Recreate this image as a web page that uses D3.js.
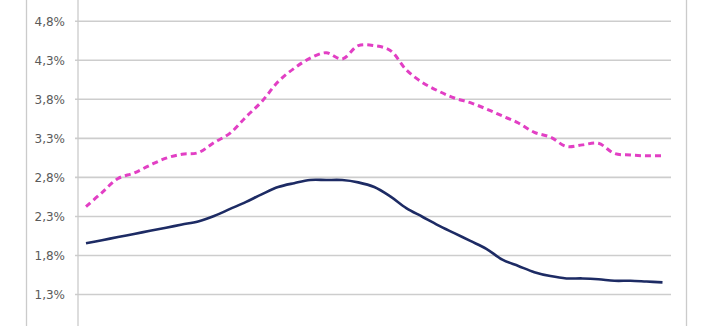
<!DOCTYPE html>
<html>
<head>
<meta charset="utf-8">
<script src="https://cdn.jsdelivr.net/npm/d3@7"></script>
<style>
  html, body { margin: 0; padding: 0; background: #fff; overflow: hidden; }
  .axis text { font-family: "DejaVu Sans", sans-serif; font-size: 12px; fill: #5a5a5a; }
</style>
</head>
<body>
<div id="main"></div>
<script>
// 37 periods, x labels are cut off in the picture
const periods = d3.range(1, 38)

// dashed pink series
const pinkSeries = [2.42, 2.60, 2.78, 2.85, 2.95, 3.04, 3.09, 3.11, 3.24, 3.36,
  3.57, 3.77, 4.02, 4.19, 4.32, 4.39, 4.31, 4.48, 4.48, 4.42,
  4.17, 4.01, 3.90, 3.81, 3.75, 3.67, 3.58, 3.49, 3.37, 3.31,
  3.19, 3.21, 3.23, 3.10, 3.08, 3.07, 3.07]

// solid navy series
const blueSeries = [1.95, 1.99, 2.03, 2.07, 2.11, 2.15, 2.19, 2.23, 2.30, 2.39,
  2.48, 2.58, 2.67, 2.72, 2.76, 2.76, 2.76, 2.73, 2.67, 2.55,
  2.40, 2.29, 2.18, 2.08, 1.98, 1.88, 1.74, 1.66, 1.58, 1.53,
  1.50, 1.50, 1.49, 1.47, 1.47, 1.46, 1.45]

const yTicks = [0.8, 1.3, 1.8, 2.3, 2.8, 3.3, 3.8, 4.3, 4.8]
const yTickLabels = ["0,8%", "1,3%", "1,8%", "2,3%", "2,8%", "3,3%", "3,8%", "4,3%", "4,8%"]

const width = 712, height = 326
const plotLeft = 78, plotRight = 671

const svg = d3.select('#main').append('svg').attr("width", width).attr("height", height)

// chart frame
svg.append('rect').attr("x", 26.5).attr("y", -10).attr("width", 660).attr("height", height + 20)
  .attr("fill", "none").attr("stroke", "#cbcbcb").attr("stroke-width", 1.3)

const x = d3.scalePoint().domain(periods).range([86, 662.5])
const y = d3.scaleLinear().domain([0.8, 4.8]).range([333.1, 20.7])

const yAxis = svg.append('g').attr("class", "axis").attr("transform", `translate(${plotLeft},0)`)
  .call(d3.axisLeft(y).tickValues(yTicks).tickSize(-(plotRight - plotLeft)).tickPadding(13)
    .tickFormat((d, i) => yTickLabels[i]))
yAxis.select(".domain").remove()
yAxis.selectAll(".tick line").attr("x1", -3).attr("stroke", "#cdcdcd").attr("stroke-width", 1.6)
yAxis.selectAll(".tick text").attr("dy", "0.36em")

// vertical axis line
svg.append('line').attr("x1", plotLeft).attr("x2", plotLeft)
  .attr("y1", y(5.4)).attr("y2", y(0.4)).attr("stroke", "#cbcbcb").attr("stroke-width", 1.3)

const line = d3.line().x((d, i) => x(periods[i])).y(d => y(d)).curve(d3.curveCatmullRom.alpha(0.5))

svg.append('path').datum(blueSeries).attr("d", line)
  .attr("fill", "none").attr("stroke", "#1d2b64").attr("stroke-width", 2.6)

svg.append('path').datum(pinkSeries).attr("d", line)
  .attr("fill", "none").attr("stroke", "#e23fc4").attr("stroke-width", 3)
  .attr("stroke-dasharray", "6,4")
</script>
</body>
</html>
